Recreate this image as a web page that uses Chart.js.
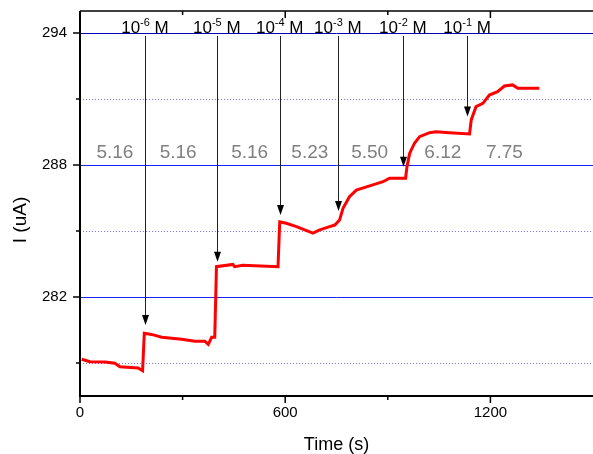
<!DOCTYPE html>
<html>
<head>
<meta charset="utf-8">
<script src="https://cdn.jsdelivr.net/npm/chart.js@4"></script>
<style>
  html, body { margin: 0; padding: 0; background: #fff; }
  #wrap { width: 593px; height: 454px; }
</style>
</head>
<body>
<div id="wrap"><canvas id="grafico" width="593" height="454"></canvas></div>
<script>
// measured current trace
const timeS = [5, 29, 73, 102, 117, 170, 183, 188, 209, 239, 297, 336, 365, 375, 385, 394,
    399, 447, 452, 476, 579, 584, 603, 633, 681, 701, 730, 745, 759, 769, 788, 808, 847, 886,
    905, 952, 956, 964, 978, 993, 1022, 1041, 1080, 1139, 1144, 1158, 1178, 1197, 1221, 1241,
    1265, 1280, 1343];
const currentUA = [279.17, 279.06, 279.05, 278.99, 278.83, 278.77, 278.65, 280.35, 280.30, 280.17,
    280.08, 279.99, 279.99, 279.85, 280.17, 280.17, 283.38, 283.48, 283.38, 283.44, 283.38, 285.42,
    285.35, 285.20, 284.90, 285.05, 285.20, 285.27, 285.50, 286.03, 286.56, 286.86, 287.05, 287.24,
    287.40, 287.40, 287.92, 288.53, 288.99, 289.29, 289.47, 289.51, 289.47, 289.41, 290.05, 290.65,
    290.80, 291.18, 291.33, 291.59, 291.64, 291.49, 291.49];

// concentration additions
const arrowTimes = [190, 400, 584, 754, 944, 1132];
const arrowTips = [280.73, 283.60, 285.73, 285.91, 287.92, 290.20];
const concExp = ['-6', '-5', '-4', '-3', '-2', '-1'];

// slope labels
const slopeLabels = ['5.16', '5.16', '5.16', '5.23', '5.50', '6.12', '7.75'];
const slopeTimes = [102, 287, 496, 672, 847, 1061, 1241];
const slopeLevel = 288.56;

const xTicks = [0, 600, 1200];
const xMinor = [300, 900];
const yTicks = [294, 288, 282];
const yMinor = [291, 285, 279];

const puntos = timeS.map((t, i) => ({ x: t, y: currentUA[i] }));

const ejesPlugin = {
    id: 'ejes',
    beforeDatasetsDraw(chart) {
        const ctx = chart.ctx;
        const a = chart.chartArea;
        const sy = chart.scales.y;
        ctx.save();
        ctx.lineWidth = 1;
        yMinor.forEach(v => {
            const p = Math.round(sy.getPixelForValue(v)) + 0.5;
            ctx.strokeStyle = '#7878ff';
            ctx.setLineDash([1, 2]);
            ctx.beginPath();
            ctx.moveTo(a.left, p);
            ctx.lineTo(a.right, p);
            ctx.stroke();
        });
        ctx.setLineDash([]);
        yTicks.forEach(v => {
            const p = Math.round(sy.getPixelForValue(v)) + 0.5;
            ctx.strokeStyle = v === 294 ? '#0000b4' : '#2020ff';
            ctx.beginPath();
            ctx.moveTo(a.left, p);
            ctx.lineTo(a.right, p);
            ctx.stroke();
        });
        ctx.restore();
    },
    afterDatasetsDraw(chart) {
        const ctx = chart.ctx;
        const a = chart.chartArea;
        const sx = chart.scales.x;
        const sy = chart.scales.y;
        ctx.save();

        // arrows
        arrowTimes.forEach((t, i) => {
            const px = Math.round(sx.getPixelForValue(t)) + 0.5;
            const tip = sy.getPixelForValue(arrowTips[i]);
            ctx.strokeStyle = '#222';
            ctx.fillStyle = '#000';
            ctx.lineWidth = 1;
            ctx.beginPath();
            ctx.moveTo(px, 36);
            ctx.lineTo(px, tip - 8);
            ctx.stroke();
            ctx.beginPath();
            ctx.moveTo(px - 3.5, tip - 10);
            ctx.lineTo(px + 3.5, tip - 10);
            ctx.lineTo(px, tip);
            ctx.closePath();
            ctx.fill();
        });

        // concentration labels
        arrowTimes.forEach((t, i) => {
            const cx = sx.getPixelForValue(t);
            const big = '17px Arial, "Liberation Sans"';
            const small = '11px Arial, "Liberation Sans"';
            ctx.font = big;
            const w1 = ctx.measureText('10').width;
            const w3 = ctx.measureText(' M').width;
            ctx.font = small;
            const w2 = ctx.measureText(concExp[i]).width;
            let x0 = cx - (w1 + w2 + w3) / 2;
            const base = 33;
            ctx.fillStyle = '#000';
            ctx.textAlign = 'left';
            ctx.textBaseline = 'alphabetic';
            ctx.font = big;
            ctx.fillText('10', x0, base);
            ctx.font = small;
            ctx.fillText(concExp[i], x0 + w1, base - 7);
            ctx.font = big;
            ctx.fillText(' M', x0 + w1 + w2, base);
        });

        // slope labels
        ctx.fillStyle = '#808080';
        ctx.font = '19px Arial, "Liberation Sans"';
        ctx.textAlign = 'center';
        ctx.textBaseline = 'middle';
        slopeLabels.forEach((s, i) => {
            ctx.fillText(s, sx.getPixelForValue(slopeTimes[i]), sy.getPixelForValue(slopeLevel));
        });

        // axes frame
        ctx.strokeStyle = '#000';
        ctx.lineWidth = 2;
        ctx.beginPath();
        ctx.moveTo(a.left, a.top);
        ctx.lineTo(a.left, a.bottom);
        ctx.lineTo(a.right, a.bottom);
        ctx.stroke();
        ctx.lineWidth = 1.5;
        ctx.beginPath();
        ctx.moveTo(a.left, a.top);
        ctx.lineTo(a.right, a.top);
        ctx.stroke();

        // y ticks
        ctx.lineWidth = 1.5;
        ctx.fillStyle = '#000';
        ctx.font = '15px Arial, "Liberation Sans"';
        ctx.textAlign = 'right';
        ctx.textBaseline = 'middle';
        yTicks.forEach(v => {
            const p = sy.getPixelForValue(v);
            ctx.beginPath();
            ctx.moveTo(a.left - 7, p);
            ctx.lineTo(a.left, p);
            ctx.stroke();
            ctx.fillText(String(v), a.left - 13, p);
        });
        yMinor.forEach(v => {
            const p = sy.getPixelForValue(v);
            ctx.beginPath();
            ctx.moveTo(a.left - 4, p);
            ctx.lineTo(a.left, p);
            ctx.stroke();
        });

        // x ticks
        ctx.textAlign = 'center';
        ctx.textBaseline = 'top';
        xTicks.forEach(v => {
            const p = sx.getPixelForValue(v);
            ctx.beginPath();
            ctx.moveTo(p, a.bottom);
            ctx.lineTo(p, a.bottom + 7);
            ctx.moveTo(p, a.top);
            ctx.lineTo(p, a.top + 7);
            ctx.stroke();
            ctx.fillText(String(v), p, a.bottom + 9);
        });
        xMinor.forEach(v => {
            const p = sx.getPixelForValue(v);
            ctx.beginPath();
            ctx.moveTo(p, a.bottom);
            ctx.lineTo(p, a.bottom + 4);
            ctx.moveTo(p, a.top);
            ctx.lineTo(p, a.top + 4);
            ctx.stroke();
        });

        // titles
        ctx.font = '18px Arial, "Liberation Sans"';
        ctx.textAlign = 'center';
        ctx.textBaseline = 'middle';
        ctx.fillText('Time (s)', (a.left + a.right) / 2, 445);
        ctx.save();
        ctx.translate(21, 220);
        ctx.rotate(-Math.PI / 2);
        ctx.font = '19px Arial, "Liberation Sans"';
        ctx.fillText('I (uA)', 0, 0);
        ctx.restore();

        ctx.restore();
    }
};

new Chart(document.getElementById('grafico'), {
    type: 'line',
    data: {
        datasets: [{
            label: 'I',
            data: puntos,
            borderColor: '#ff0000',
            borderWidth: 3,
            pointRadius: 0,
            tension: 0,
            fill: false
        }]
    },
    options: {
        responsive: false,
        animation: false,
        layout: {
            padding: { left: 80, top: 11, right: 0, bottom: 58 }
        },
        scales: {
            x: { type: 'linear', min: 0, max: 1500, display: false },
            y: { type: 'linear', min: 277.5, max: 295, display: false }
        },
        plugins: {
            legend: { display: false },
            tooltip: { enabled: false }
        }
    },
    plugins: [ejesPlugin]
});
</script>
</body>
</html>
